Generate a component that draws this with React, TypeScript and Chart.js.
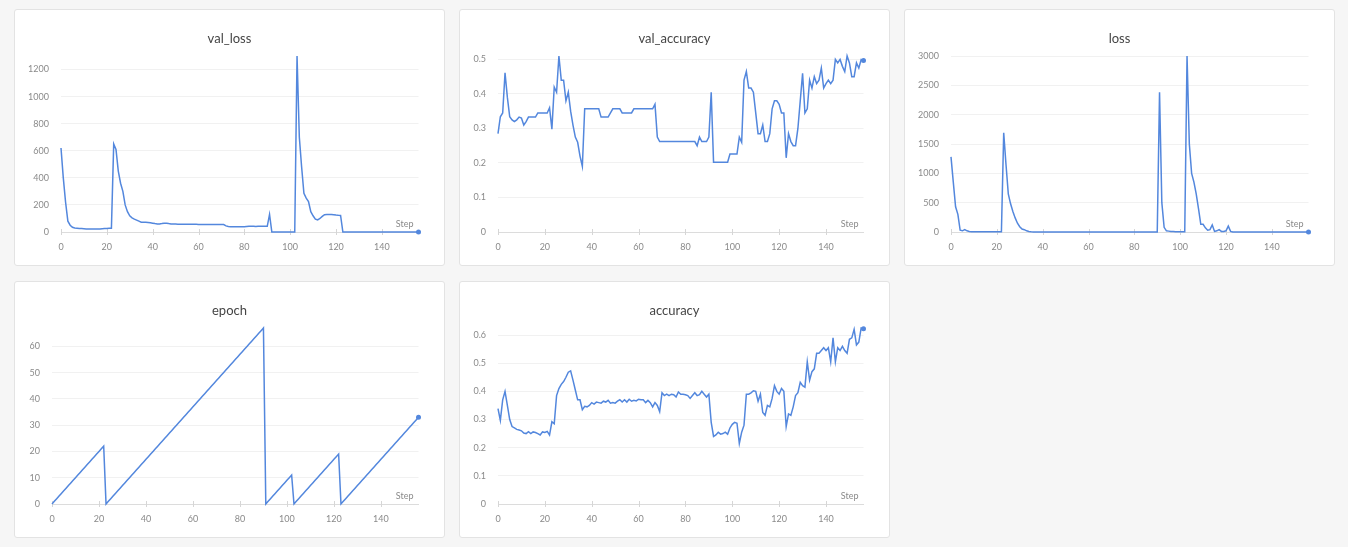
import React, { useEffect, useRef } from "react";
import { Chart, registerables } from "chart.js";

Chart.register(...registerables);

const steps: number[] = [
  0, 1, 2, 3, 4, 5, 6, 7, 8, 9, 10, 11, 12, 13, 14, 15, 16, 17, 18, 19,
  20, 21, 22, 23, 24, 25, 26, 27, 28, 29, 30, 31, 32, 33, 34, 35, 36, 37, 38, 39,
  40, 41, 42, 43, 44, 45, 46, 47, 48, 49, 50, 51, 52, 53, 54, 55, 56, 57, 58, 59,
  60, 61, 62, 63, 64, 65, 66, 67, 68, 69, 70, 71, 72, 73, 74, 75, 76, 77, 78, 79,
  80, 81, 82, 83, 84, 85, 86, 87, 88, 89, 90, 91, 92, 93, 94, 95, 96, 97, 98, 99,
  100, 101, 102, 103, 104, 105, 106, 107, 108, 109, 110, 111, 112, 113, 114, 115, 116, 117, 118, 119,
  120, 121, 122, 123, 124, 125, 126, 127, 128, 129, 130, 131, 132, 133, 134, 135, 136, 137, 138, 139,
  140, 141, 142, 143, 144, 145, 146, 147, 148, 149, 150, 151, 152, 153, 154, 155, 156,
];

const valLoss: number[] = [
  620, 400, 220, 80, 50, 35, 30, 28, 26, 25, 24, 23, 22, 22, 22, 22, 22, 23, 24, 25,
  26, 27, 28, 650, 610, 450, 360, 300, 200, 150, 120, 105, 95, 88, 80, 72, 72, 72, 70, 68,
  65, 62, 60, 60, 62, 65, 65, 62, 60, 60, 59, 58, 58, 58, 58, 57, 57, 58, 57, 57,
  56, 56, 56, 56, 56, 56, 56, 56, 55, 55, 55, 55, 45, 40, 39, 38, 38, 38, 38, 38,
  38, 40, 42, 43, 42, 40, 42, 42, 42, 42, 42, 130, 0, 0, 0, 0, 0, 0, 0, 0,
  0, 0, 0, 1300, 700, 480, 285, 250, 225, 150, 120, 95, 90, 100, 115, 128, 130, 130, 130, 128,
  125, 123, 122, 0, 0, 0, 0, 0, 0, 0, 0, 0, 0, 0, 0, 0, 0, 0, 0, 0,
  0, 0, 0, 0, 0, 0, 0, 0, 0, 0, 0, 0, 0, 0, 0, 0, 0,
];

const valAccuracy: number[] = [
  0.285, 0.334, 0.345, 0.461, 0.39, 0.334, 0.325, 0.32, 0.325, 0.333, 0.33, 0.31, 0.32, 0.333, 0.333, 0.333, 0.333, 0.345, 0.345, 0.345,
  0.345, 0.345, 0.36, 0.298, 0.42, 0.405, 0.51, 0.44, 0.44, 0.38, 0.405, 0.35, 0.31, 0.275, 0.26, 0.22, 0.19, 0.357, 0.357, 0.357,
  0.357, 0.357, 0.357, 0.357, 0.333, 0.333, 0.333, 0.333, 0.345, 0.357, 0.357, 0.357, 0.357, 0.345, 0.345, 0.345, 0.345, 0.345, 0.357, 0.357,
  0.357, 0.357, 0.357, 0.357, 0.357, 0.357, 0.357, 0.37, 0.275, 0.262, 0.262, 0.262, 0.262, 0.262, 0.262, 0.262, 0.262, 0.262, 0.262, 0.262,
  0.262, 0.262, 0.262, 0.262, 0.262, 0.25, 0.275, 0.262, 0.262, 0.262, 0.275, 0.405, 0.202, 0.202, 0.202, 0.202, 0.202, 0.202, 0.202, 0.226,
  0.226, 0.226, 0.226, 0.275, 0.26, 0.44, 0.465, 0.417, 0.417, 0.405, 0.345, 0.285, 0.285, 0.31, 0.262, 0.262, 0.285, 0.357, 0.38, 0.38,
  0.37, 0.345, 0.345, 0.215, 0.285, 0.262, 0.25, 0.25, 0.3, 0.38, 0.46, 0.345, 0.357, 0.44, 0.417, 0.45, 0.43, 0.44, 0.475, 0.417,
  0.43, 0.44, 0.43, 0.44, 0.5, 0.49, 0.5, 0.48, 0.465, 0.51, 0.49, 0.45, 0.45, 0.49, 0.475, 0.5, 0.497,
];

const loss: number[] = [
  1280, 850, 430, 300, 30, 20, 40, 20, 10, 5, 3, 3, 3, 3, 3, 3, 3, 3, 3, 3,
  3, 3, 3, 1690, 1150, 650, 480, 350, 240, 150, 90, 50, 40, 20, 10, 5, 2, 2, 2, 2,
  2, 2, 2, 2, 2, 2, 2, 2, 2, 2, 2, 2, 2, 2, 2, 2, 2, 2, 2, 2,
  2, 2, 2, 2, 2, 2, 2, 2, 2, 2, 2, 2, 2, 2, 2, 2, 2, 2, 2, 2,
  2, 2, 2, 2, 2, 2, 2, 2, 2, 2, 2, 2380, 500, 80, 20, 15, 10, 8, 6, 5,
  5, 5, 5, 3000, 1500, 1000, 850, 650, 400, 130, 130, 70, 30, 40, 120, 10, 20, 40, 10, 10,
  20, 100, 10, 1, 1, 1, 1, 1, 1, 1, 1, 1, 1, 1, 1, 1, 1, 1, 1, 1,
  1, 1, 1, 1, 1, 1, 1, 1, 1, 1, 1, 1, 1, 1, 1, 1, 1,
];

const epoch: number[] = [
  0, 1, 2, 3, 4, 5, 6, 7, 8, 9, 10, 11, 12, 13, 14, 15, 16, 17, 18, 19,
  20, 21, 22, 0, 1, 2, 3, 4, 5, 6, 7, 8, 9, 10, 11, 12, 13, 14, 15, 16,
  17, 18, 19, 20, 21, 22, 23, 24, 25, 26, 27, 28, 29, 30, 31, 32, 33, 34, 35, 36,
  37, 38, 39, 40, 41, 42, 43, 44, 45, 46, 47, 48, 49, 50, 51, 52, 53, 54, 55, 56,
  57, 58, 59, 60, 61, 62, 63, 64, 65, 66, 67, 0, 1, 2, 3, 4, 5, 6, 7, 8,
  9, 10, 11, 0, 1, 2, 3, 4, 5, 6, 7, 8, 9, 10, 11, 12, 13, 14, 15, 16,
  17, 18, 19, 0, 1, 2, 3, 4, 5, 6, 7, 8, 9, 10, 11, 12, 13, 14, 15, 16,
  17, 18, 19, 20, 21, 22, 23, 24, 25, 26, 27, 28, 29, 30, 31, 32, 33,
];

const accuracy: number[] = [
  0.339, 0.297, 0.37, 0.4, 0.35, 0.3, 0.275, 0.27, 0.265, 0.263, 0.26, 0.252, 0.25, 0.257, 0.25, 0.256, 0.254, 0.25, 0.245, 0.256,
  0.254, 0.258, 0.245, 0.292, 0.285, 0.385, 0.41, 0.425, 0.435, 0.45, 0.468, 0.473, 0.44, 0.405, 0.37, 0.37, 0.335, 0.347, 0.345, 0.35,
  0.36, 0.355, 0.362, 0.36, 0.358, 0.365, 0.362, 0.368, 0.358, 0.36, 0.358, 0.365, 0.37, 0.362, 0.37, 0.362, 0.372, 0.365, 0.368, 0.366,
  0.372, 0.37, 0.37, 0.36, 0.368, 0.36, 0.345, 0.36, 0.35, 0.328, 0.395, 0.385, 0.39, 0.385, 0.39, 0.388, 0.38, 0.398, 0.39, 0.39,
  0.388, 0.385, 0.375, 0.385, 0.395, 0.385, 0.388, 0.4, 0.39, 0.38, 0.39, 0.29, 0.24, 0.245, 0.255, 0.248, 0.25, 0.255, 0.248, 0.27,
  0.283, 0.29, 0.287, 0.215, 0.255, 0.28, 0.39, 0.39, 0.395, 0.402, 0.4, 0.365, 0.39, 0.325, 0.315, 0.35, 0.345, 0.375, 0.42, 0.4,
  0.39, 0.41, 0.4, 0.275, 0.32, 0.315, 0.345, 0.385, 0.395, 0.432, 0.42, 0.415, 0.505, 0.44, 0.47, 0.48, 0.535, 0.535, 0.545, 0.555,
  0.545, 0.555, 0.505, 0.59, 0.505, 0.555, 0.545, 0.56, 0.545, 0.535, 0.585, 0.59, 0.62, 0.565, 0.575, 0.625, 0.622,
];

const xTickStep = 20;

type PanelSpec = {
  title: string;
  data: number[];
  yStep: number;
  left: number;
  top: number;
  yAxisWidth: number;
};

const PANEL_W = 431;
const PANEL_H = 257;
const LINE_COLOR = "rgb(83, 135, 221)";
const FONT = "Lato, 'Open Sans', sans-serif";

const panels: PanelSpec[] = [
  { title: "val_loss", data: valLoss, yStep: 200, left: 14, top: 9, yAxisWidth: 47 },
  { title: "val_accuracy", data: valAccuracy, yStep: 0.1, left: 459, top: 9, yAxisWidth: 39 },
  { title: "loss", data: loss, yStep: 500, left: 904, top: 9, yAxisWidth: 47 },
  { title: "epoch", data: epoch, yStep: 10, left: 14, top: 281, yAxisWidth: 38 },
  { title: "accuracy", data: accuracy, yStep: 0.1, left: 459, top: 281, yAxisWidth: 39 },
];

function makeDecor(title: string) {
  return {
    id: "panelDecor",
    beforeDatasetsDraw(chart: any) {
      const ctx = chart.ctx;
      const xs = chart.scales.x;
      const y0 = chart.chartArea.bottom;
      ctx.save();
      ctx.strokeStyle = "#d6d6d6";
      ctx.lineWidth = 1;
      xs.ticks.forEach((t: any) => {
        const px = Math.round(xs.getPixelForValue(t.value)) + 0.5;
        ctx.beginPath();
        ctx.moveTo(px, y0 - 3);
        ctx.lineTo(px, y0 + 3);
        ctx.stroke();
      });
      ctx.restore();
    },
    afterDraw(chart: any) {
      const ctx = chart.ctx;
      ctx.save();
      ctx.fillStyle = "#454545";
      ctx.font = `13px ${FONT}`;
      ctx.textAlign = "center";
      ctx.textBaseline = "middle";
      ctx.fillText(title, chart.width / 2, 30);
      ctx.fillStyle = "#8a8a8a";
      ctx.font = `9px ${FONT}`;
      ctx.textAlign = "right";
      ctx.fillText("Step", chart.chartArea.right - 5, chart.chartArea.bottom - 8);
      ctx.restore();
    },
  };
}

function Panel({ spec }: { spec: PanelSpec }) {
  const ref = useRef<HTMLCanvasElement | null>(null);
  useEffect(() => {
    if (!ref.current) return;
    const n = spec.data.length;
    const yMax = Math.max(...spec.data);
    const chart = new Chart(ref.current, {
      type: "line",
      data: {
        labels: steps,
        datasets: [
          {
            data: spec.data.map((v, i) => ({ x: steps[i], y: v })),
            borderColor: LINE_COLOR,
            backgroundColor: LINE_COLOR,
            borderWidth: 1.5,
            pointRadius: (c: any) => (c.dataIndex === n - 1 ? 2.5 : 0),
            pointHoverRadius: 0,
            pointBorderWidth: 0,
            tension: 0,
            fill: false,
            clip: false,
          },
        ],
      },
      options: {
        animation: false,
        responsive: false,
        maintainAspectRatio: false,
        events: [],
        layout: { padding: { top: 47, right: 26.5, left: 0, bottom: 0 } },
        plugins: {
          legend: { display: false },
          title: { display: false },
          tooltip: { enabled: false },
        },
        scales: {
          x: {
            type: "linear",
            min: 0,
            max: steps[steps.length - 1],
            grid: { display: false, drawTicks: false },
            border: { display: true, color: "#dcdcdc" },
            ticks: {
              stepSize: xTickStep,
              includeBounds: false,
              padding: 10,
              color: "#8a8a8a",
              font: { family: FONT, size: 9 },
              maxRotation: 0,
            },
            afterFit: (s: any) => {
              s.height = 34;
            },
          },
          y: {
            type: "linear",
            min: 0,
            max: yMax,
            grid: { color: "#f1f1f1", drawTicks: false },
            border: { display: false },
            ticks: {
              stepSize: spec.yStep,
              includeBounds: false,
              padding: 12,
              color: "#8a8a8a",
              font: { family: FONT, size: 9 },
              callback: (v: any) => String(Math.round(Number(v) * 1000) / 1000),
            },
            afterFit: (s: any) => {
              s.width = spec.yAxisWidth;
            },
          },
        },
      },
      plugins: [makeDecor(spec.title)],
    } as any);
    return () => chart.destroy();
  }, [spec]);

  return (
    <div
      style={{
        position: "absolute",
        left: spec.left,
        top: spec.top,
        width: PANEL_W,
        height: PANEL_H,
        boxSizing: "border-box",
        background: "#ffffff",
        border: "1px solid #e3e3e3",
        borderRadius: 3,
      }}
    >
      <canvas
        ref={ref}
        width={PANEL_W}
        height={PANEL_H}
        style={{ position: "absolute", left: -1, top: -1, width: PANEL_W, height: PANEL_H }}
      />
    </div>
  );
}

export default function App() {
  return (
    <div
      style={{
        position: "fixed",
        left: 0,
        top: 0,
        width: 1348,
        height: 547,
        background: "#f6f6f6",
        overflow: "hidden",
      }}
    >
      {panels.map((p) => (
        <Panel key={p.title} spec={p} />
      ))}
    </div>
  );
}
